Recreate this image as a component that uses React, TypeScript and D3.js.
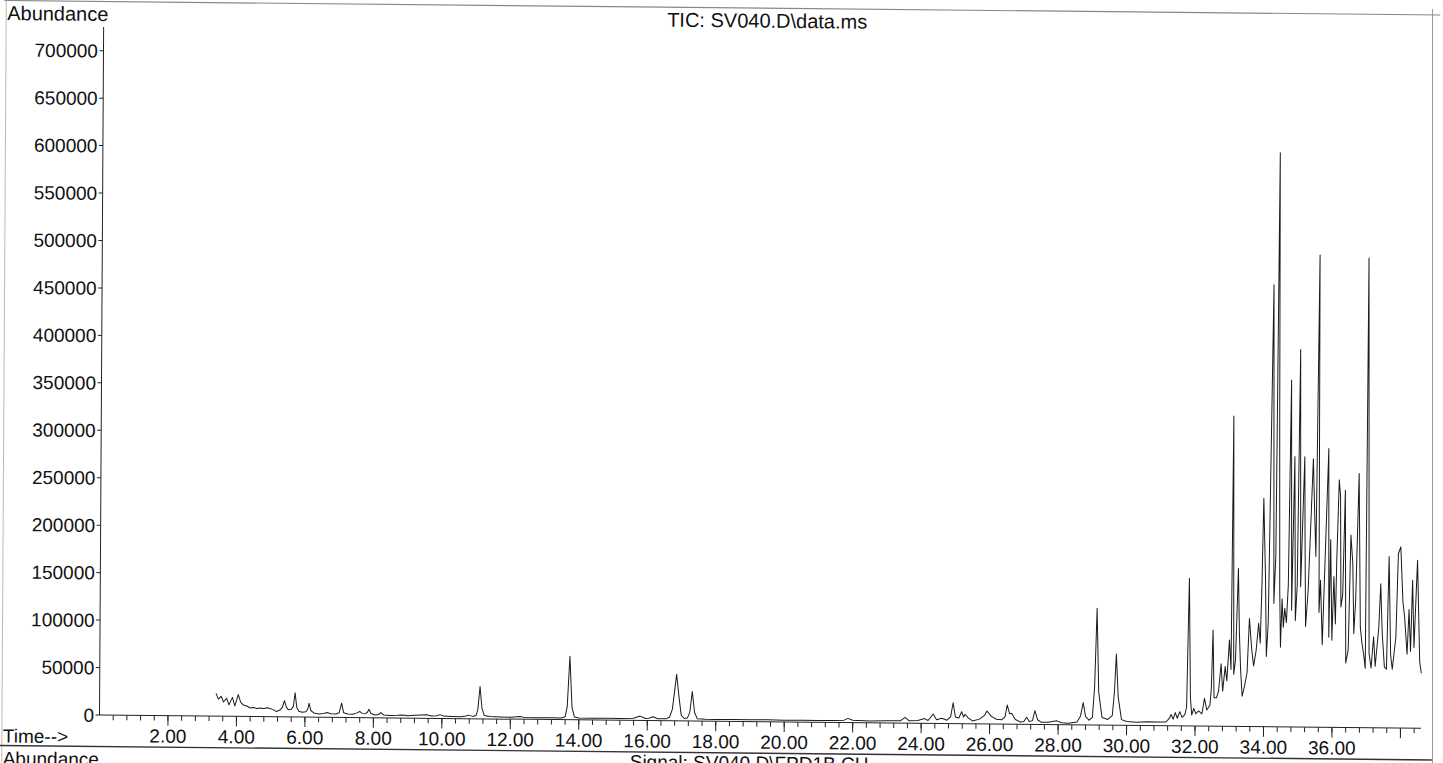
import React from 'react';
import * as d3 from 'd3';

// retention time (min) and abundance
const times = [
  3.40, 3.47, 3.55, 3.62, 3.71, 3.78, 3.88, 3.95, 4.05, 4.12, 4.20, 4.30, 4.40, 4.50, 4.60, 4.70, 4.80, 4.90,
  5.00, 5.10, 5.17, 5.28, 5.34, 5.40, 5.46, 5.51, 5.60, 5.66, 5.71, 5.76, 5.82, 5.92, 6.02, 6.08, 6.12, 6.17,
  6.26, 6.40, 6.55, 6.65, 6.75, 6.90, 7.00, 7.07, 7.13, 7.25, 7.40, 7.52, 7.60, 7.67, 7.75, 7.82, 7.87, 7.93,
  8.05, 8.15, 8.22, 8.30, 8.50, 8.70, 8.85, 9.00, 9.20, 9.40, 9.55, 9.70, 9.85, 9.95, 10.05, 10.30, 10.55, 10.70,
  10.78, 10.90, 11.00, 11.05, 11.11, 11.17, 11.24, 11.40, 11.70, 12.00, 12.28, 12.40, 12.80, 13.20, 13.50, 13.60,
  13.66, 13.73, 13.80, 13.87, 14.00, 14.40, 14.80, 15.20, 15.60, 15.79, 15.95, 16.05, 16.17, 16.30, 16.55, 16.65,
  16.73, 16.79, 16.85, 16.92, 16.99, 17.08, 17.17, 17.24, 17.31, 17.38, 17.46, 17.70, 18.00, 18.50, 19.00, 19.50,
  20.00, 20.50, 21.00, 21.50, 21.75, 21.86, 22.00, 22.50, 23.00, 23.40, 23.53, 23.65, 23.90, 24.10, 24.20, 24.35,
  24.45, 24.60, 24.75, 24.86, 24.93, 25.00, 25.10, 25.18, 25.24, 25.28, 25.38, 25.50, 25.70, 25.85, 25.92, 26.05,
  26.20, 26.35, 26.45, 26.51, 26.58, 26.64, 26.75, 26.90, 27.00, 27.08, 27.16, 27.25, 27.32, 27.40, 27.50, 27.70,
  27.96, 28.10, 28.30, 28.55, 28.65, 28.73, 28.80, 28.90, 29.00, 29.06, 29.12, 29.18, 29.28, 29.45, 29.58, 29.64,
  29.69, 29.75, 29.85, 30.00, 30.30, 30.60, 30.90, 31.15, 31.25, 31.30, 31.36, 31.42, 31.48, 31.55, 31.62, 31.70,
  31.75, 31.81, 31.86, 31.90, 31.96, 32.02, 32.10, 32.20, 32.27, 32.34, 32.43, 32.47, 32.51, 32.55, 32.62, 32.68,
  32.75, 32.80, 32.87, 32.92, 32.99, 33.04, 33.08, 33.12, 33.17, 33.24, 33.28, 33.32, 33.37, 33.44, 33.51, 33.57,
  33.64, 33.70, 33.77, 33.84, 33.89, 33.93, 33.97, 34.00, 34.03, 34.07, 34.12, 34.23, 34.28, 34.33, 34.39, 34.42,
  34.45, 34.48, 34.52, 34.56, 34.60, 34.65, 34.70, 34.76, 34.80, 34.87, 34.91, 34.96, 35.02, 35.06, 35.16, 35.18,
  35.21, 35.28, 35.35, 35.41, 35.46, 35.50, 35.57, 35.60, 35.64, 35.70, 35.86, 35.89, 35.93, 35.98, 36.03, 36.08,
  36.11, 36.17, 36.21, 36.24, 36.29, 36.35, 36.39, 36.46, 36.52, 36.58, 36.62, 36.67, 36.75, 36.81, 36.86, 36.92,
  36.96, 37.00, 37.07, 37.13, 37.20, 37.25, 37.35, 37.40, 37.45, 37.52, 37.58, 37.64, 37.70, 37.75, 37.85, 37.91,
  37.98, 38.05, 38.10, 38.18, 38.23, 38.28, 38.33, 38.38, 38.47, 38.55, 38.60,
];

const abundance = [
  24000, 18000, 21000, 15000, 19000, 12000, 20000, 11000, 23000, 15000, 12000, 11000, 9000, 9500, 8500, 9000, 8500, 9500,
  8500, 7000, 5500, 7500, 10000, 17000, 10000, 7500, 8000, 11000, 25500, 10000, 6000, 5000, 5500, 8000, 14500, 7000,
  4500, 3500, 4000, 5000, 3800, 3500, 5000, 15000, 5000, 3800, 3500, 5000, 6500, 4500, 4000, 5500, 9000, 4500,
  3000, 3500, 5500, 3000, 2500, 2800, 3200, 2500, 3000, 3500, 3800, 2500, 2800, 4000, 2500, 2200, 2000, 2800,
  3800, 2500, 3500, 10000, 34000, 11000, 3500, 2500, 2200, 2000, 3000, 2000, 1800, 2000, 1800, 3000,
  14000, 67000, 13000, 3000, 2000, 1800, 2000, 1800, 2200, 4600, 2200, 2500, 4000, 2000, 2000, 4000,
  12000, 30000, 49000, 26000, 6000, 2500, 3000, 9000, 31000, 9000, 2500, 2000, 1800, 2000, 1800, 2000,
  1800, 2000, 1800, 2000, 2500, 4400, 2500, 2000, 2200, 2500, 6000, 2500, 3000, 5000, 3000, 9900,
  4000, 5500, 3500, 7000, 22000, 7000, 6000, 12600, 7000, 10000, 6000, 3000, 5000, 9000, 13600, 8000,
  5000, 4500, 8000, 20200, 11000, 11600, 5000, 2500, 3000, 7500, 3000, 4000, 14500, 5000, 2500, 2500,
  4000, 2000, 1500, 3000, 9000, 23500, 9000, 5000, 8000, 40000, 123000, 35000, 8000, 6000, 10000, 35000,
  75000, 30000, 6000, 4000, 3500, 4000, 3800, 4000, 8000, 12000, 7000, 14000, 8000, 15000, 9000, 12000,
  20000, 155700, 30000, 11600, 18600, 13000, 16000, 13000, 29400, 17000, 22000, 40000, 101500, 30000, 30000, 37000,
  66000, 37000, 63000, 48000, 91000, 60000, 327000, 55000, 70000, 166500, 98000, 60000, 32000, 43000, 57000, 114000,
  82000, 64000, 80000, 109000, 88000, 150000, 240700, 200000, 160000, 74000, 110000, 465800, 130000, 180000, 605000, 320000,
  144000, 84000, 135000, 105000, 125000, 110000, 150000, 365700, 123000, 285000, 112000, 150000, 398000, 148000, 285000, 200000,
  106000, 144000, 218000, 283000, 222000, 180000, 497700, 121000, 155000, 87000, 294000, 95000, 198000, 92000, 159000, 109000,
  175000, 261000, 244000, 127000, 140000, 250000, 68000, 82000, 203000, 173000, 99000, 135000, 268000, 106000, 89000, 75000,
  62600, 495000, 78500, 63000, 96000, 65000, 106000, 152000, 100000, 64000, 62000, 180700, 77000, 62000, 96000, 184000,
  191000, 133000, 118000, 78000, 125000, 81000, 156000, 85000, 177000, 70000, 58000,
];

const yTickValues = [0, 50000, 100000, 150000, 200000, 250000, 300000, 350000, 400000, 450000, 500000, 550000, 600000, 650000, 700000];
const xMajorTicks = [2, 4, 6, 8, 10, 12, 14, 16, 18, 20, 22, 24, 26, 28, 30, 32, 34, 36, 38];
const xLabelTicks = [2, 4, 6, 8, 10, 12, 14, 16, 18, 20, 22, 24, 26, 28, 30, 32, 34, 36];

const FONT = '"Liberation Sans", Arial, sans-serif';

const App = () => {
  const x = d3.scaleLinear().domain([0, 38.6]).range([99.5, 1421]);
  const y = d3.scaleLinear().domain([0, 725000]).range([715, 27]);

  const line = d3
    .line<number>()
    .x((d, i) => x(times[i]))
    .y((d) => y(d));

  // minor ticks every 0.4 min
  const minorTicks = d3.range(1, 97).map((i) => +(i * 0.4).toFixed(1));

  // the scan is slightly skewed: right side lower, top leaning right
  const skew = 'matrix(1, 0.0101, -0.006, 1, 4.29, -1.01)';

  return (
    <svg
      width={1443}
      height={763}
      style={{ position: 'absolute', left: 0, top: 0, background: '#fff' }}
      fontFamily={FONT}
    >
      <rect x={0} y={0} width={1443} height={763} fill="#fff" />
      <g transform={skew}>
        {/* frame */}
        <line x1={0} x2={1436} y1={1.5} y2={1.5} stroke="#888" strokeWidth={1.2} />
        <line x1={2} x2={2} y1={1.5} y2={763} stroke="#bbb" strokeWidth={1} />
        <line x1={0} x2={1432} y1={746.5} y2={746.5} stroke="#333" strokeWidth={1.4} />

        <text x={3} y={21} fontSize={20} fill="#111">Abundance</text>
        <text x={763} y={21} fontSize={20} fill="#111" textAnchor="middle">TIC: SV040.D\data.ms</text>

        {/* y axis */}
        <line x1={99.5} x2={99.5} y1={y.range()[1]} y2={y(0)} stroke="#222" strokeWidth={1} />
        {yTickValues.map((v) => (
          <g key={v}>
            <line x1={95.5} x2={99.5} y1={y(v)} y2={y(v)} stroke="#222" strokeWidth={1} />
            <text x={94} y={y(v)} dy="0.36em" fontSize={19} fill="#111" textAnchor="end">
              {v}
            </text>
          </g>
        ))}

        {/* x axis */}
        <line x1={99.5} x2={1421} y1={y(0)} y2={y(0)} stroke="#222" strokeWidth={1} />
        {minorTicks.map((t) => (
          <line key={'m' + t} x1={x(t)} x2={x(t)} y1={y(0)} y2={y(0) + 5} stroke="#222" strokeWidth={1} />
        ))}
        {xMajorTicks.map((t) => (
          <line key={'M' + t} x1={x(t)} x2={x(t)} y1={y(0)} y2={y(0) + 10} stroke="#222" strokeWidth={1} />
        ))}
        {xLabelTicks.map((t) => (
          <text key={'l' + t} x={x(t)} y={742} fontSize={19} fill="#111" textAnchor="middle">
            {t.toFixed(2)}
          </text>
        ))}
        <text x={3} y={743.5} fontSize={19} fill="#111">Time--&gt;</text>

        {/* trace */}
        <path d={line(abundance) || ''} fill="none" stroke="#1a1a1a" strokeWidth={1} strokeLinejoin="round" />

        {/* next panel header, cut by the page edge as in the scan */}
        <text x={3} y={766} fontSize={19} fill="#111">Abundance</text>
        <text x={630} y={763} fontSize={19} fill="#111">Signal: SV040.D\FPD1B.CH</text>
      </g>
      <line x1={1432.5} x2={1432.5} y1={9} y2={763} stroke="#999" strokeWidth={1} />
    </svg>
  );
};

export default App;
